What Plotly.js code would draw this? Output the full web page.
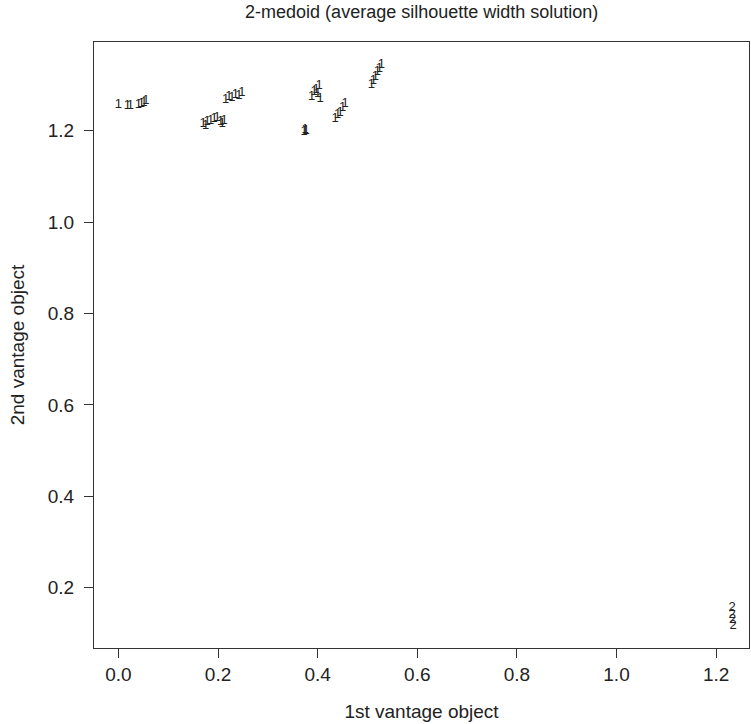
<!DOCTYPE html>
<html>
<head>
<meta charset="utf-8">
<script src="https://cdn.plot.ly/plotly-3.0.1.min.js"></script>
<style>html,body{margin:0;padding:0;background:#fff;}#chart{width:751px;height:724px;}</style>
</head>
<body>
<div id="chart"></div>
<script>
// Cluster 1 points (1st vantage object, 2nd vantage object)
const cluster1X = [0.000, 0.018, 0.024, 0.040, 0.046, 0.051, 0.055,
  0.170, 0.175, 0.178, 0.185, 0.192, 0.198, 0.205, 0.208, 0.212,
  0.215, 0.222, 0.228, 0.235, 0.242, 0.248,
  0.373, 0.375, 0.377,
  0.388, 0.393, 0.397, 0.400, 0.403, 0.405,
  0.435, 0.440, 0.445, 0.450, 0.455,
  0.508, 0.512, 0.516, 0.520, 0.524, 0.528];
const cluster1Y = [1.257, 1.254, 1.255, 1.256, 1.258, 1.262, 1.266,
  1.215, 1.210, 1.220, 1.222, 1.225, 1.228, 1.220, 1.215, 1.222,
  1.268, 1.275, 1.272, 1.278, 1.276, 1.282,
  1.198, 1.203, 1.200,
  1.275, 1.285, 1.290, 1.280, 1.298, 1.270,
  1.225, 1.235, 1.240, 1.250, 1.258,
  1.300, 1.310, 1.318, 1.328, 1.335, 1.345];
// Cluster 2 points
const cluster2X = [1.232, 1.232, 1.233, 1.234];
const cluster2Y = [0.155, 0.141, 0.130, 0.117];
const cluster1Label = '1';
const cluster2Label = '2';
const xTicks = [0, 0.2, 0.4, 0.6, 0.8, 1.0, 1.2];
const yTicks = [0.2, 0.4, 0.6, 0.8, 1.0, 1.2];

const FAM = 'Liberation Sans, Arial, sans-serif';
const markFont = {family: FAM, size: 13, color: '#222'};
const traces = [
  {x: cluster1X, y: cluster1Y, mode: 'text', type: 'scatter',
   text: cluster1X.map(() => cluster1Label), textposition: 'middle center',
   textfont: markFont, hoverinfo: 'x+y', showlegend: false},
  {x: cluster2X, y: cluster2Y, mode: 'text', type: 'scatter',
   text: cluster2X.map(() => cluster2Label), textposition: 'middle center',
   textfont: markFont, hoverinfo: 'x+y', showlegend: false}
];
const axFont = {family: FAM, size: 19, color: '#222'};
const layout = {
  width: 751, height: 724,
  margin: {l: 94, r: 2, t: 42, b: 76},
  paper_bgcolor: '#fff', plot_bgcolor: '#fff',
  font: axFont,
  title: {text: '2-medoid (average silhouette width solution)', x: 0.5615, xanchor: 'center', y: 0.984, yanchor: 'middle',
          font: {family: FAM, size: 18, color: '#222'}},
  xaxis: {range: [-0.049, 1.266], tickvals: xTicks, tickformat: '.1f', ticks: 'outside', ticklen: 9, tickwidth: 1,
          tickcolor: '#333', showgrid: false, zeroline: false, showline: true, mirror: true, linecolor: '#333', linewidth: 1,
          ticklabelstandoff: 0,
          tickfont: axFont, title: {text: '1st vantage object', font: axFont, standoff: 20}},
  yaxis: {range: [0.068, 1.394], tickvals: yTicks, tickformat: '.1f', ticks: 'outside', ticklen: 9, tickwidth: 1,
          tickcolor: '#333', showgrid: false, zeroline: false, showline: true, mirror: true, linecolor: '#333', linewidth: 1,
          ticklabelstandoff: 6,
          tickfont: axFont, title: {text: '2nd vantage object', font: axFont, standoff: 18}}
};
Plotly.newPlot('chart', traces, layout, {displayModeBar: false, staticPlot: true});
</script>
</body>
</html>
